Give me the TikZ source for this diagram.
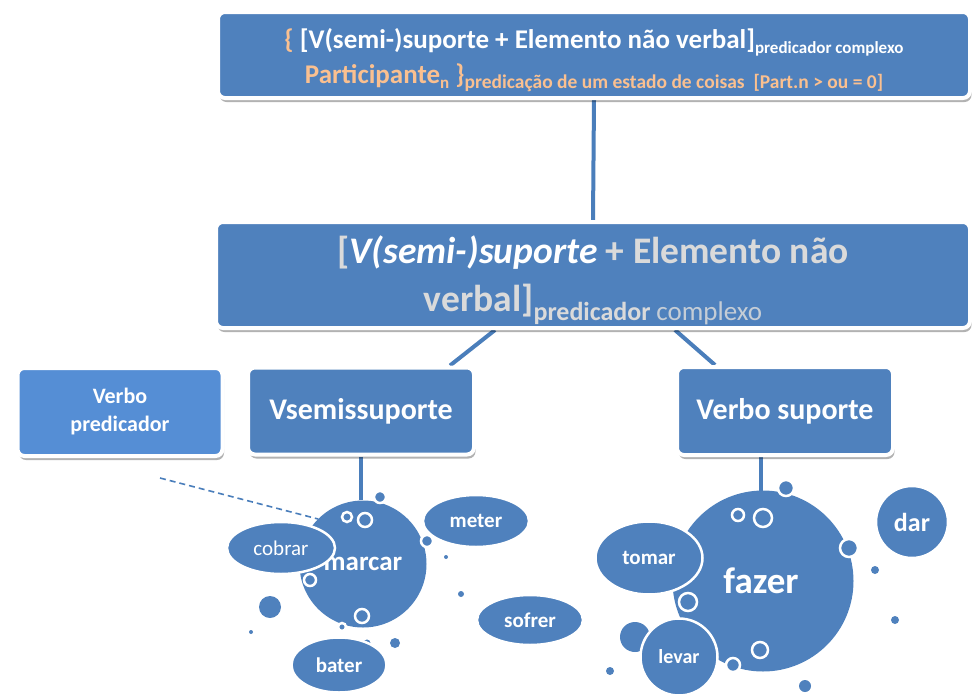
\documentclass[tikz,border=0pt]{standalone}
\usepackage{fontspec}
\setmainfont{Carlito}
\usetikzlibrary{shapes.geometric,shadows,backgrounds,calc}

\definecolor{boxblue}{HTML}{4F81BD}
\definecolor{lightblue}{HTML}{558ED5}
\definecolor{lineblue}{HTML}{4A7EBB}
\definecolor{peach}{HTML}{FAC090}
\definecolor{paletext}{HTML}{DADADA}

\newcommand{\fs}[1]{\fontsize{#1}{#1}\selectfont}
\newcommand{\lowsub}[2]{\raisebox{-#1}{#2}}

\tikzset{
  box/.style={rectangle, rounded corners=7pt, fill=boxblue, draw=white,
    line width=4pt, text=white, font=\bfseries, align=center, inner sep=0pt,
    drop shadow={shadow xshift=1.5pt, shadow yshift=-4pt, opacity=.3, fill=black}},
  bubble/.style={ellipse, fill=boxblue, draw=white, line width=2.5pt,
    text=white, inner sep=0pt, font=\bfseries},
  bigbubble/.style={circle, fill=boxblue, draw=none, text=white,
    inner sep=0pt, font=\bfseries},
  link/.style={draw=lineblue, line width=4pt},
  ring/.style={draw=white, line width=2.5pt, fill=boxblue},
  blob/.style={fill=boxblue}
}

\begin{document}
\begin{tikzpicture}[x=1pt,y=-1pt]
  \useasboundingbox (0,0) rectangle (978,694);

  % boxes
  \node [box, minimum width=752pt, minimum height=86pt] at (594,55) (top)
    {\rule{0pt}{30pt}\fs{27}{\color{peach}\{} [V(semi-)suporte + Elemento não verbal]\lowsub{5pt}{\fs{17}predicador complexo}\\[6pt]
     \color{peach}\fs{27}Participante\lowsub{5pt}{\fs{17}n} \}\lowsub{5pt}{\fs{19.5}predicação de um estado de coisas\ \ [Part.n > ou = 0]}};
  \node [box, minimum width=754pt, minimum height=106pt] at (593,275) (mid)
    {\rule{0pt}{39pt}\fs{37.5}\color{paletext}[{\color{white}\itshape V(semi-)suporte} + Elemento não\\[14pt]
     \fs{37.5}\color{paletext}verbal]\lowsub{9pt}{\fs{26}predicador {\mdseries\fs{27}\color{paletext!85!boxblue}complexo}}};
  \node [box, fill=lightblue, minimum width=205pt, minimum height=88pt,
    font=\bfseries\fontsize{22}{28}\selectfont] at (120,412) (vpred)
    {Verbo\\predicador};
  \node [box, minimum width=226pt, minimum height=87pt] at (361,411) (vsemi)
    {\fs{30}Vsemissuporte};
  \node [box, minimum width=216pt, minimum height=88pt] at (785,411) (vsup)
    {\fs{30}Verbo suporte};

  % big bubbles
  \node [bigbubble, minimum size=127pt] at (363,564) (marcar) {\fs{27}marcar};
  \node [bigbubble, minimum size=181pt] at (763,581) (fazer) {\fs{37}\hspace{-4pt}fazer};
  \coordinate (dstart) at (160,478);

  % connectors
  \begin{scope}[on background layer]
    \draw [link] (top.south) -- (mid.north);
    \draw [link] ($(mid.south)+(-98,0)$) -- ($(vsemi.north)+(89,0)$);
    \draw [link] ($(mid.south)+(82,0)$) -- ($(vsup.north)+(-70,0)$);
    \draw [link] (vsemi.south) -- (vsemi.south |- marcar.north);
    \draw [link] ($(vsup.south)+(-24,0)$) -- ($(fazer.north)+(-2,6)$);
    \draw [lineblue, line width=1.6pt, dash pattern=on 6pt off 4pt] (dstart) -- (marcar.north west);
  \end{scope}

  % little circles round marcar
  \fill [ring] (380,497) circle [radius=6pt];
  \draw [ring] (347,517) circle [radius=5pt];
  \draw [ring] (365,520) circle [radius=7pt];
  \draw [ring] (427,541) circle [radius=6pt];
  \draw [ring] (310,580) circle [radius=6pt];
  \draw [ring] (362,616) circle [radius=7pt];
  \draw [ring] (342,627) circle [radius=4pt];
  \draw [ring] (367,643) circle [radius=5pt];
  \fill [blob] (446,557) circle [radius=2pt];
  \fill [blob] (461,594) circle [radius=3pt];
  \fill [blob] (270,607) circle [radius=11pt];
  \fill [blob] (251,632) circle [radius=2pt];
  \fill [blob] (395,643) circle [radius=5pt];

  % little circles round fazer
  \draw [ring] (786,488) circle [radius=8pt];
  \draw [ring] (738,515) circle [radius=6pt];
  \draw [ring] (763,518) circle [radius=9pt];
  \draw [ring] (849,548) circle [radius=9pt];
  \draw [ring] (688,602) circle [radius=9pt];
  \draw [ring] (733,665) circle [radius=7pt];
  \draw [ring] (760,650) circle [radius=8pt];
  \fill [blob] (875,570) circle [radius=4pt];
  \fill [blob] (895,620) circle [radius=4pt];
  \fill [blob] (635,637) circle [radius=15pt];
  \fill [blob] (610,671) circle [radius=4pt];
  \fill [blob] (805,686) circle [radius=6pt];

  % word bubbles
  \node [bubble, font=\mdseries, minimum width=108pt, minimum height=52pt] at (281,548) (cobrar) {\fs{21}cobrar};
  \node [bubble, minimum width=106pt, minimum height=52pt] at (476,521) (meter) {\fs{21}meter};
  \node [bubble, minimum width=95pt, minimum height=55pt] at (339,665) (bater) {\fs{21}bater};
  \node [bubble, minimum width=106pt, minimum height=50pt] at (530,620) (sofrer) {\fs{21}sofrer};
  \node [bubble, minimum width=107pt, minimum height=73pt] at (649,558) (tomar) {\fs{21}tomar};
  \node [bubble, circle, minimum size=77pt] at (679,657) (levar) {\fs{20}levar};
  \node [bubble, circle, minimum size=72pt] at (912,522) (dar) {\fs{26}dar};
\end{tikzpicture}
\end{document}
